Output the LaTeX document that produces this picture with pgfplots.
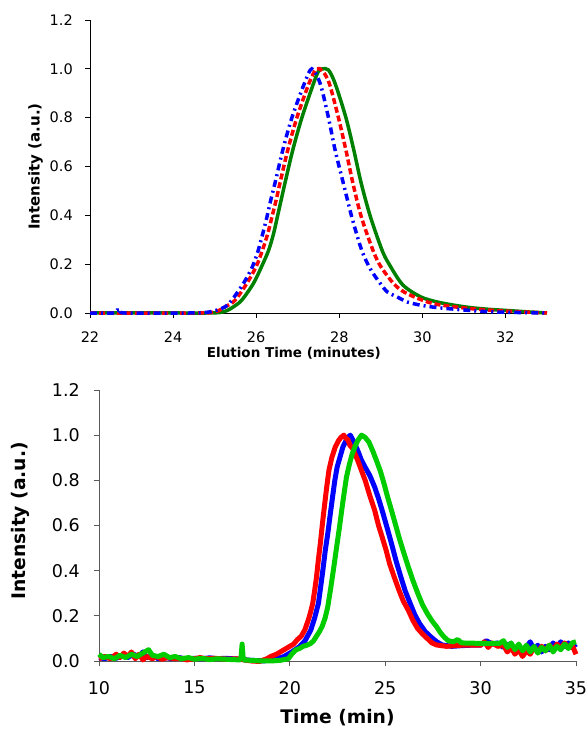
\documentclass[border=0pt]{standalone}
\usepackage{fontspec}
\setmainfont{DejaVu Sans}
\usepackage{pgfplots}
\pgfplotsset{compat=1.18}
\usepackage{pgfplotstable}

\definecolor{tblue}{RGB}{0,0,255}
\definecolor{tred}{RGB}{255,0,0}
\definecolor{tgreen}{RGB}{0,128,0}
\definecolor{bgreen}{RGB}{0,204,0}

% top panel: normalised elution curves
\pgfplotstableread{
t v
22.0 0
24.0 0
24.8 0
25.13 0.002
25.3 0.01
25.45 0.025
25.65 0.052
25.93 0.12
26.13 0.19
26.30 0.257
26.42 0.326
26.51 0.394
26.60 0.462
26.69 0.53
26.88 0.667
27.10 0.80
27.38 0.94
27.5 0.99
27.6 1.0
27.74 0.995
27.90 0.94
28.16 0.80
28.35 0.667
28.53 0.53
28.75 0.394
29.03 0.257
29.2 0.20
29.53 0.115
29.96 0.066
30.36 0.045
30.76 0.032
31.16 0.022
31.6 0.015
31.97 0.011
32.5 0.005
33.0 0
}\topgreen

\pgfplotstableread{
t v
22.0 0
24.5 0
25.0 0.004
25.25 0.025
25.49 0.052
25.77 0.12
26.0 0.19
26.15 0.257
26.28 0.326
26.38 0.394
26.48 0.462
26.57 0.53
26.76 0.667
26.98 0.80
27.27 0.94
27.45 1.0
27.6 0.99
27.76 0.94
27.98 0.80
28.16 0.667
28.33 0.53
28.53 0.394
28.81 0.257
29.0 0.19
29.31 0.12
29.56 0.086
29.96 0.055
30.36 0.035
31.16 0.018
31.97 0.008
33.0 0
}\topred

\pgfplotstableread{
t v
22.0 0
22.55 0
22.65 0.012
22.75 0.01
22.85 0
24.4 0
24.9 0.005
25.25 0.025
25.41 0.052
25.69 0.12
25.91 0.19
26.05 0.257
26.16 0.326
26.26 0.394
26.35 0.462
26.45 0.53
26.64 0.667
26.86 0.80
27.16 0.94
27.34 1.0
27.54 0.94
27.74 0.80
27.90 0.667
28.10 0.53
28.30 0.394
28.54 0.257
28.75 0.18
28.99 0.12
29.16 0.086
29.39 0.066
29.64 0.045
29.96 0.032
30.36 0.022
31.1 0.011
31.5 0.006
32.0 0.003
33.0 0
}\topblue

% bottom panel: raw detector traces
\pgfplotstableread{
t v
10.0 0.015
10.3 0.01
10.6 0.02
10.9 0.012
11.2 0.025
11.5 0.015
11.8 0.03
12.1 0.02
12.3 0.04
12.5 0.015
12.8 0.025
13.1 0.01
13.4 0.018
13.8 0.01
14.2 0.015
14.6 0.008
15.0 0.012
15.4 0.01
15.8 0.014
16.2 0.01
16.6 0.012
17.0 0.01
17.4 0.008
17.8 0.004
18.2 0.002
18.6 0.0
19.0 0.005
19.4 0.012
19.7 0.02
20.1 0.04
20.5 0.063
20.8 0.09
21.1 0.137
21.3 0.19
21.5 0.255
21.62 0.33
21.73 0.40
21.86 0.49
21.99 0.564
22.12 0.65
22.24 0.726
22.36 0.80
22.48 0.858
22.62 0.90
22.78 0.947
23.0 0.985
23.17 1.0
23.36 0.97
23.56 0.932
23.75 0.89
23.95 0.858
24.2 0.82
24.45 0.77
24.65 0.72
24.84 0.667
25.1 0.59
25.33 0.52
25.58 0.44
25.82 0.372
26.05 0.31
26.31 0.255
26.55 0.205
26.8 0.166
27.1 0.13
27.39 0.107
27.7 0.085
27.98 0.071
28.5 0.065
29.0 0.068
29.5 0.07
30.0 0.07
30.3 0.09
30.6 0.075
30.9 0.08
31.2 0.06
31.5 0.075
31.8 0.04
32.0 0.07
32.2 0.03
32.4 0.06
32.6 0.085
32.8 0.05
33.0 0.07
33.2 0.04
33.4 0.065
33.6 0.05
33.8 0.08
34.0 0.06
34.2 0.085
34.4 0.065
34.6 0.08
34.8 0.06
35.0 0.075
}\botblue

\pgfplotstableread{
t v
10.0 0.01
10.3 0.02
10.6 0.01
10.9 0.03
11.1 0.015
11.3 0.035
11.5 0.02
11.7 0.04
11.9 0.01
12.1 0.03
12.3 0.005
12.5 0.02
12.8 0.01
13.0 0.02
13.3 0.008
13.6 0.015
14.0 0.01
14.3 0.012
14.6 0.005
15.0 0.01
15.3 0.015
15.6 0.01
16.0 0.012
16.4 0.01
16.8 0.008
17.2 0.01
17.6 0.005
18.0 0.0
18.4 -0.002
18.8 0.01
19.0 0.02
19.3 0.03
19.6 0.045
19.9 0.06
20.2 0.075
20.4 0.095
20.6 0.11
20.8 0.14
21.0 0.19
21.1 0.22
21.2 0.255
21.3 0.31
21.4 0.372
21.5 0.45
21.6 0.52
21.7 0.60
21.79 0.667
21.92 0.76
22.05 0.844
22.2 0.90
22.38 0.947
22.55 0.975
22.68 0.99
22.83 1.0
22.95 0.985
23.05 0.98
23.15 0.955
23.3 0.94
23.45 0.91
23.56 0.888
23.75 0.845
23.95 0.80
24.2 0.73
24.45 0.667
24.65 0.60
24.84 0.549
25.05 0.49
25.23 0.431
25.48 0.37
25.72 0.314
25.95 0.265
26.21 0.225
26.45 0.18
26.7 0.144
26.95 0.12
27.2 0.10
27.45 0.08
27.69 0.071
28.2 0.065
29.0 0.07
30.0 0.07
30.2 0.085
30.4 0.06
30.6 0.08
30.9 0.065
31.2 0.07
31.4 0.04
31.6 0.06
31.8 0.03
32.0 0.05
32.2 0.02
32.4 0.045
32.6 0.03
32.8 0.06
33.0 0.04
33.2 0.065
33.4 0.045
33.6 0.07
33.8 0.05
34.0 0.075
34.2 0.055
34.4 0.08
34.6 0.06
34.8 0.07
35.0 0.03
}\botred

\pgfplotstableread{
t v
10.0 0.03
10.2 0.015
10.5 0.02
10.8 0.01
11.1 0.025
11.4 0.015
11.7 0.03
12.0 0.02
12.3 0.035
12.6 0.05
12.8 0.025
13.1 0.02
13.4 0.03
13.7 0.015
14.0 0.02
14.3 0.01
14.7 0.015
15.0 0.008
15.4 0.012
15.8 0.006
16.2 0.01
16.6 0.008
17.0 0.006
17.4 0.005
17.45 0.02
17.5 0.075
17.55 0.02
17.6 0.004
18.0 0.003
18.5 0.0
19.0 0.0
19.5 0.003
19.92 0.01
20.1 0.03
20.31 0.049
20.5 0.055
20.7 0.065
20.9 0.07
21.1 0.078
21.25 0.09
21.4 0.11
21.55 0.13
21.69 0.152
21.85 0.19
21.99 0.24
22.14 0.32
22.28 0.40
22.38 0.46
22.48 0.52
22.6 0.59
22.72 0.667
22.85 0.745
22.97 0.814
23.12 0.87
23.27 0.917
23.42 0.95
23.56 0.976
23.76 1.0
23.95 0.99
24.15 0.969
24.35 0.93
24.54 0.888
24.75 0.84
24.94 0.785
25.13 0.725
25.33 0.667
25.52 0.61
25.72 0.549
25.97 0.48
26.21 0.417
26.46 0.355
26.71 0.299
26.95 0.25
27.2 0.211
27.45 0.178
27.69 0.152
27.9 0.125
28.08 0.107
28.3 0.09
28.57 0.085
28.8 0.095
29.0 0.08
30.0 0.078
31.0 0.078
31.2 0.09
31.4 0.06
31.6 0.08
31.8 0.05
32.0 0.075
32.2 0.045
32.4 0.07
32.6 0.04
32.8 0.065
33.0 0.035
33.2 0.06
33.4 0.045
33.6 0.07
33.8 0.04
34.0 0.065
34.2 0.05
34.4 0.075
34.6 0.055
34.8 0.08
35.0 0.085
}\botgreen

\begin{document}
\begin{tikzpicture}[x=1pt,y=1pt]
\useasboundingbox (0,0) rectangle (587,731);

\begin{axis}[
    at={(90pt,418pt)}, anchor=south west,
    scale only axis, width=457pt, height=293pt,
    xmin=22, xmax=33, ymin=0, ymax=1.2,
    xtick={22,24,...,32}, ytick={0,0.2,...,1.2},
    axis x line=bottom, axis y line=left,
    axis line style={-, black, line width=0.9pt},
    tick style={black, line width=0.9pt},
    tick align=outside, major tick length=5pt,
    clip=false,
    /pgf/number format/assume math mode=true,
    ticklabel style={font=\fontsize{14.5}{16}\selectfont, inner sep=0pt},
    yticklabel style={/pgf/number format/fixed, /pgf/number format/fixed zerofill, /pgf/number format/precision=1},
    xticklabel style={anchor=north, yshift=-14pt},
    yticklabel style={anchor=east, xshift=-12pt},
    xlabel={Elution Time (minutes)},
    ylabel={Intensity (a.u.)},
    xlabel style={font=\bfseries\fontsize{13.5}{15}\selectfont, at={(axis description cs:0.446,-0.1365)}, anchor=center},
    ylabel style={font=\bfseries\fontsize{15}{17}\selectfont, at={(axis description cs:-0.119,0.5)}, anchor=center},
]
\addplot[tgreen, line width=3.5pt, smooth] table[x=t, y=v] {\topgreen};
\addplot[tred, line width=3.5pt, smooth, dash pattern=on 6pt off 3pt] table[x=t, y=v] {\topred};
\addplot[tblue, line width=3.5pt, smooth, dash pattern=on 7pt off 4pt on 2pt off 4pt] table[x=t, y=v] {\topblue};
\end{axis}

\begin{axis}[
    at={(99pt,70pt)}, anchor=south west,
    scale only axis, width=477pt, height=271pt,
    xmin=10, xmax=35, ymin=0, ymax=1.2,
    xtick={10,15,...,35}, ytick={0,0.2,...,1.2},
    axis x line=bottom, axis y line=left,
    axis line style={-, black!65, line width=0.9pt},
    tick style={black!65, line width=0.9pt},
    tick align=outside, major tick length=5pt,
    clip=false,
    /pgf/number format/assume math mode=true,
    ticklabel style={font=\fontsize{17.5}{19}\selectfont, inner sep=0pt},
    yticklabel style={/pgf/number format/fixed, /pgf/number format/fixed zerofill, /pgf/number format/precision=1},
    xticklabel style={anchor=north, yshift=-15pt},
    yticklabel style={anchor=east, xshift=-14pt},
    xlabel={Time (min)},
    ylabel={Intensity (a.u.)},
    xlabel style={font=\bfseries\fontsize{18.7}{21}\selectfont, at={(axis description cs:0.5,-0.210)}, anchor=center},
    ylabel style={font=\bfseries\fontsize{18.7}{21}\selectfont, at={(axis description cs:-0.1644,0.517)}, anchor=center},
]
\addplot[tblue, line width=5pt, line join=round] table[x=t, y=v] {\botblue};
\addplot[tred, line width=5pt, line join=round] table[x=t, y=v] {\botred};
\addplot[bgreen, line width=5pt, line join=round] table[x=t, y=v] {\botgreen};
\end{axis}
\end{tikzpicture}
\end{document}
